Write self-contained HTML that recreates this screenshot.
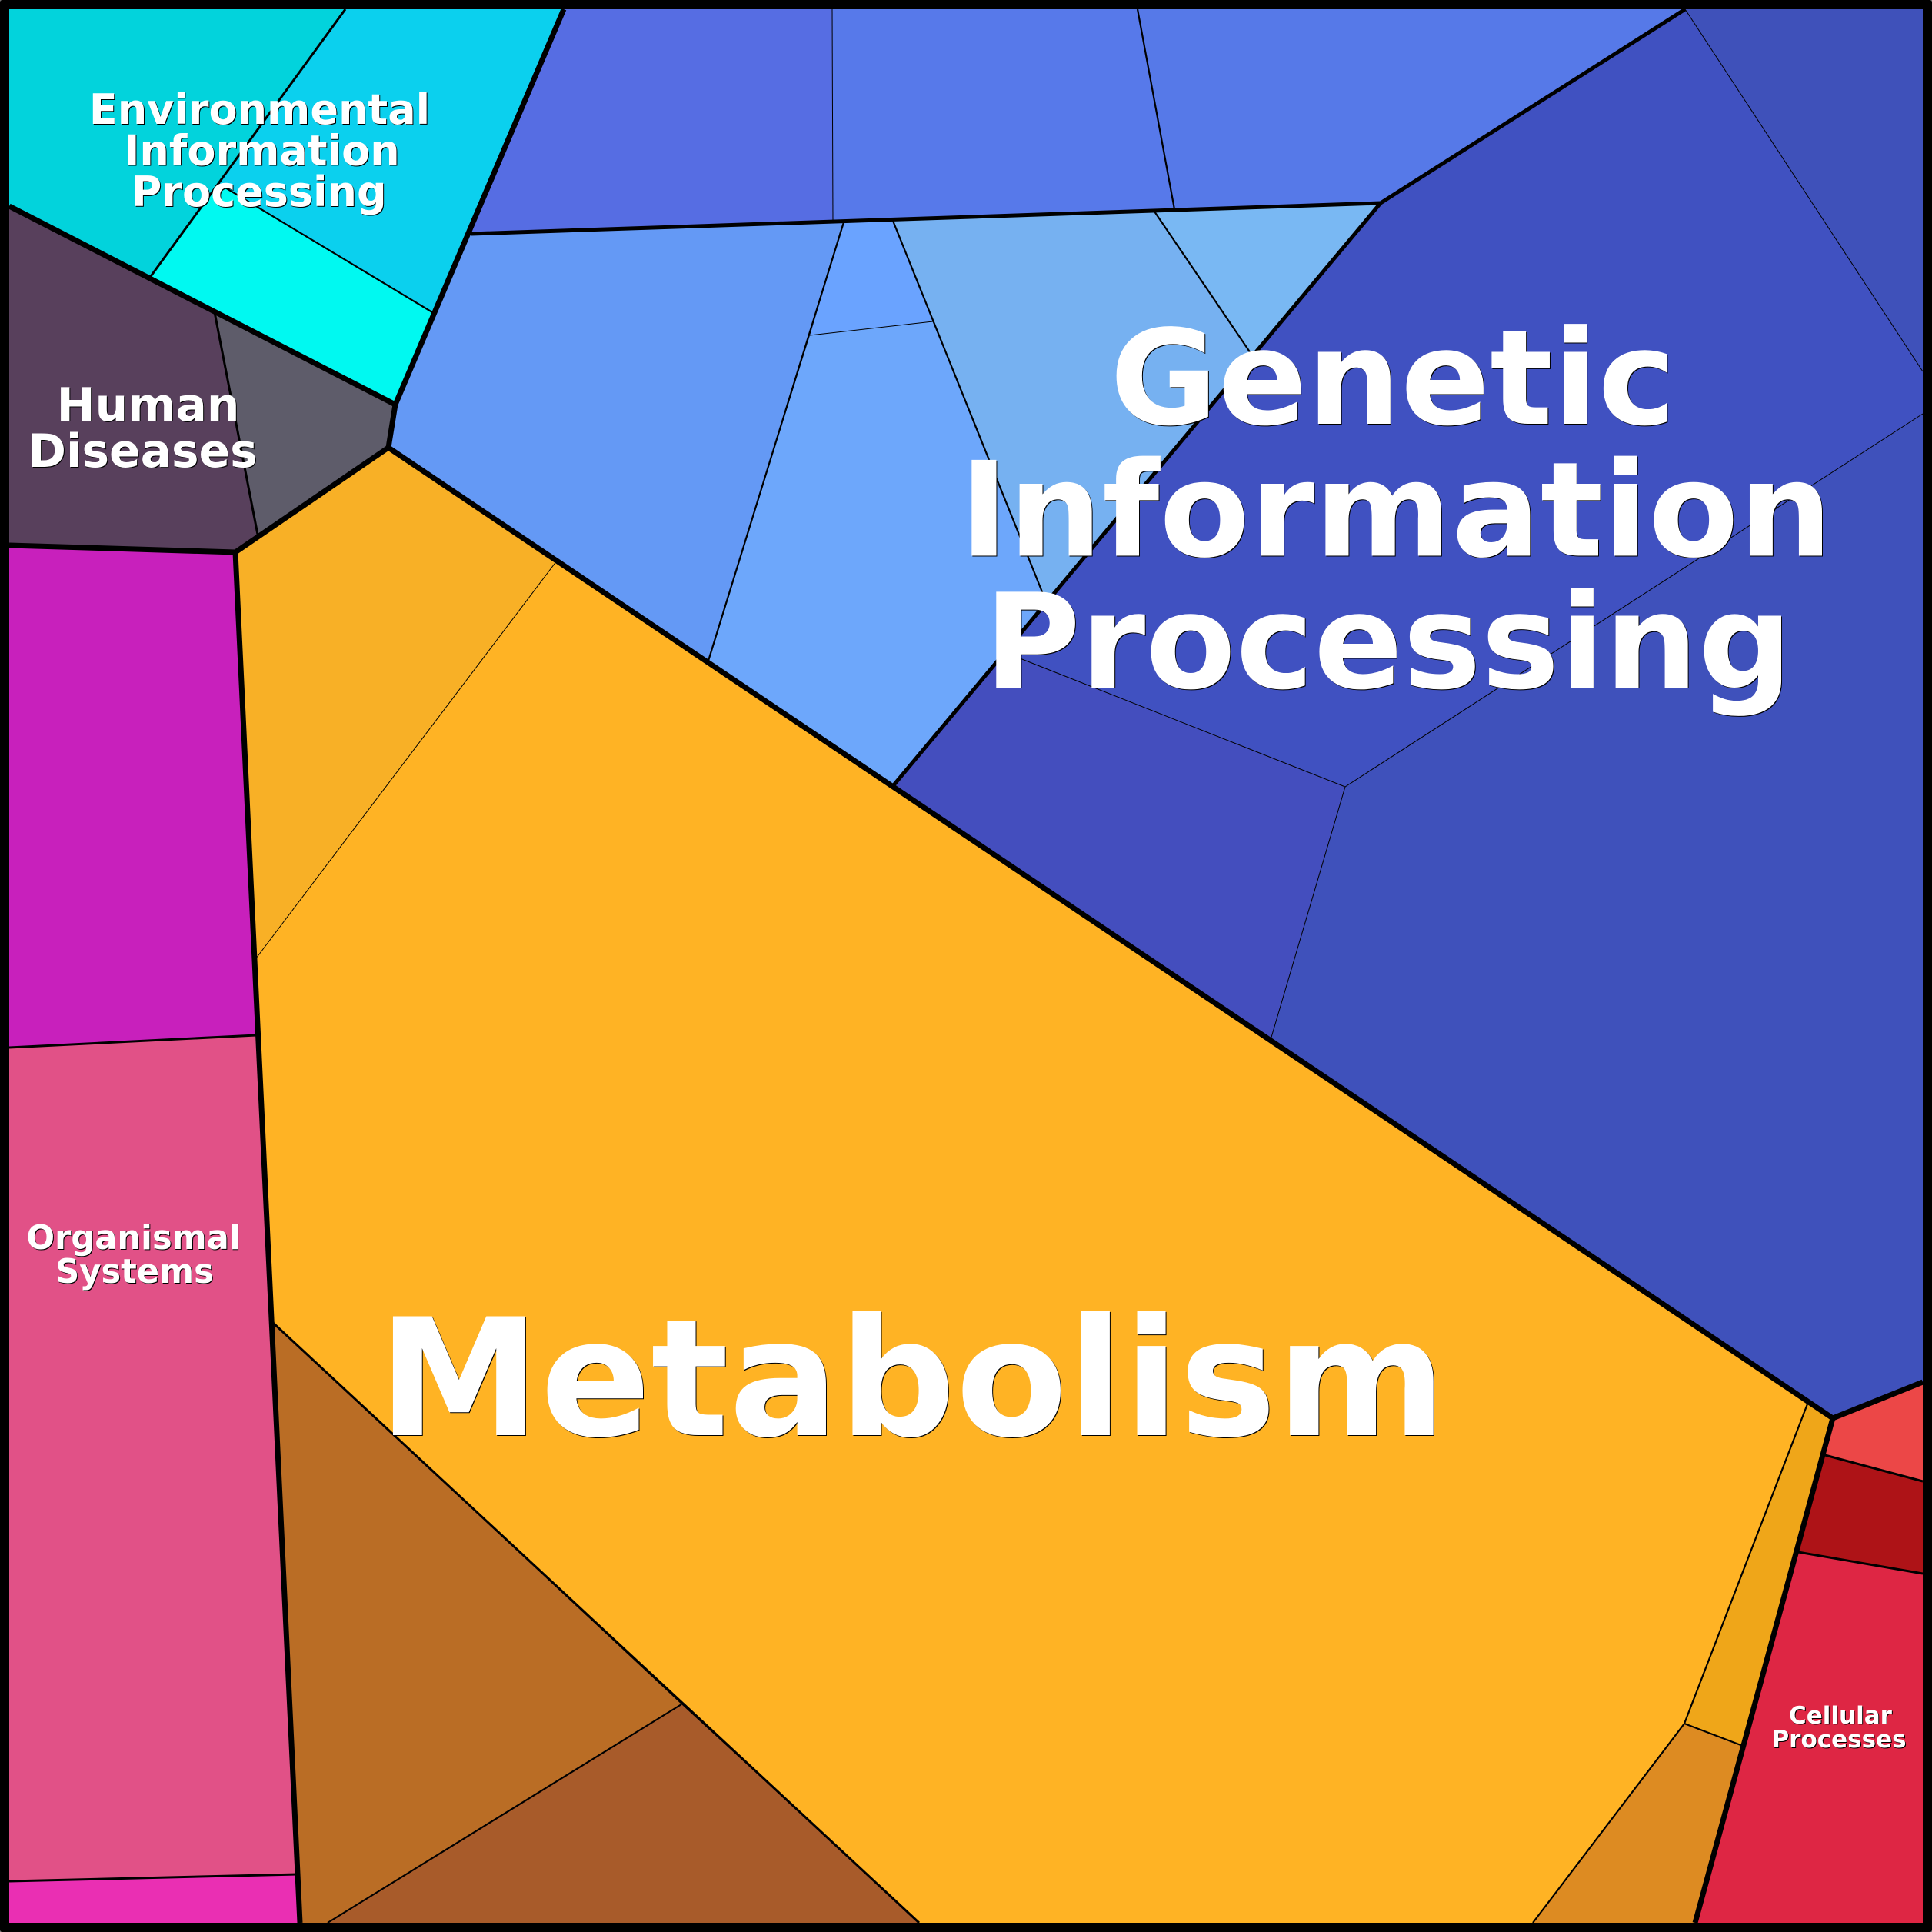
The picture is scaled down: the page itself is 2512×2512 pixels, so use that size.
<!DOCTYPE html>
<html>
<head>
<meta charset="utf-8">
<style>
html,body{margin:0;padding:0;width:2512px;height:2512px;background:#777;overflow:hidden}
svg{display:block;position:absolute;left:0;top:0}
text{font-family:"DejaVu Sans","Liberation Sans",sans-serif;font-weight:700;fill:#fff;text-anchor:middle}
.t{filter:drop-shadow(1.2px 1.2px 0 #000)}
</style>
</head>
<body>
<svg width="2512" height="2512" viewBox="0 0 2512 2512" xmlns="http://www.w3.org/2000/svg">
<rect x="0" y="0" width="2512" height="2512" rx="3" fill="#000"/>
<g>
<polygon fill="#02D3DC" points="12,12 449,12 194,362 12,268"/>
<polygon fill="#0BD0EE" points="449,12 733,12 562,406 283,238"/>
<polygon fill="#00F9F1" points="283,238 562,406 514,526 194,362"/>
<polygon fill="#58405C" points="12,268 279,406 335,695 306,718 12,709"/>
<polygon fill="#5E5C6A" points="279,406 514,526 505,582 335,695"/>
<polygon fill="#C820BC" points="12,709 306,718 333,1346 12,1362"/>
<polygon fill="#E15187" points="12,1362 333,1346 386,2437 12,2446"/>
<polygon fill="#EA2FB3" points="12,2446 386,2437 390,2500 12,2500"/>
<polygon fill="#566DE3" points="733,12 1082,12 1083,288 612,304"/>
<polygon fill="#5779EA" points="1082,12 1479,12 1527,272 1083,288"/>
<polygon fill="#5679E8" points="1479,12 2191,12 1795,264 1527,272"/>
<polygon fill="#6499F5" points="612,304 1097,289 921,859 505,582 514,526"/>
<polygon fill="#6AA3FF" points="1097,289 1161,287 1213,418 1053,436"/>
<polygon fill="#6DA7FB" points="1053,436 1213,418 1360,782 1161,1022 921,859"/>
<polygon fill="#76B1F1" points="1161,287 1501,275 1628,462 1360,782"/>
<polygon fill="#79B8F3" points="1501,275 1795,264 1628,462"/>
<polygon fill="#4051C1" points="1795,264 2191,12 2500,483 2500,538 1749,1023 1306,848"/>
<polygon fill="#3F51BA" points="2191,12 2500,12 2500,483"/>
<polygon fill="#444EBE" points="1306,848 1749,1023 1652,1352 1161,1022"/>
<polygon fill="#3F51BB" points="2500,538 1749,1023 1652,1352 2383,1844 2500,1797"/>
<polygon fill="#F8B026" points="505,582 724,729 333,1246 306,718"/>
<polygon fill="#FFB324" points="724,729 2351,1823 2190,2241 1993,2500 1195,2500 354,1719 333,1246"/>
<polygon fill="#EFA619" points="2351,1823 2383,1844 2266,2270 2190,2241"/>
<polygon fill="#DD8B22" points="2190,2241 2266,2270 2204,2500 1993,2500"/>
<polygon fill="#BA6D25" points="354,1719 886,2216 426,2500 390,2500"/>
<polygon fill="#A85B2A" points="886,2216 1195,2500 426,2500"/>
<polygon fill="#EC4747" points="2383,1844 2500,1797 2500,1926 2373,1892"/>
<polygon fill="#AE1317" points="2373,1892 2500,1926 2500,2046 2338,2018"/>
<polygon fill="#DE2644" points="2338,2018 2500,2046 2500,2500 2204,2500"/>
</g>
<g fill="none" stroke="#000" stroke-linecap="butt">
<g stroke-width="1">
<line x1="724" y1="729" x2="333" y2="1246"/>
<line x1="2191" y1="12" x2="2500" y2="483"/>
<line x1="2500" y1="538" x2="1749" y2="1023"/>
<line x1="1306" y1="848" x2="1749" y2="1023"/>
<line x1="1749" y1="1023" x2="1652" y2="1352"/>
<line x1="1082" y1="12" x2="1083" y2="288"/>
<line x1="1053" y1="436" x2="1213" y2="418"/>
</g>
<g stroke-width="2.2">
<line x1="1479" y1="12" x2="1527" y2="272"/>
<line x1="1097" y1="289" x2="921" y2="859"/>
<line x1="1161" y1="287" x2="1360" y2="782"/>
<line x1="1501" y1="275" x2="1628" y2="462"/>
<line x1="283" y1="238" x2="562" y2="406"/>
<line x1="886" y1="2216" x2="426" y2="2500"/>
<line x1="2351" y1="1823" x2="2190" y2="2241"/>
<line x1="2190" y1="2241" x2="2266" y2="2270"/>
<line x1="2190" y1="2241" x2="1993" y2="2500"/>
</g>
<g stroke-width="3">
<line x1="449" y1="12" x2="194" y2="362"/>
<line x1="279" y1="406" x2="335" y2="695"/>
<line x1="12" y1="1362" x2="333" y2="1346"/>
<line x1="12" y1="2446" x2="386" y2="2437"/>
<line x1="2373" y1="1892" x2="2500" y2="1926"/>
<line x1="2338" y1="2018" x2="2500" y2="2046"/>
<line x1="354" y1="1719" x2="1195" y2="2500"/>
</g>
<g stroke-width="5">
<line x1="612" y1="304" x2="1795" y2="264"/>
<polyline points="2191,12 1795,264 1161,1022"/>
</g>
<g stroke-width="7" stroke-linejoin="miter">
<polyline points="733,12 514,526 12,268"/>
<polyline points="514,526 505,582 306,718"/>
<line x1="12" y1="709" x2="306" y2="718"/>
<line x1="306" y1="718" x2="390" y2="2500"/>
<line x1="505" y1="582" x2="2383" y2="1844"/>
<polyline points="2500,1797 2383,1844 2204,2500"/>
</g>
</g>
<g class="t">
<text font-size="54"><tspan x="337.5" y="161">Environmental</tspan><tspan x="340.5" y="214.5">Information</tspan><tspan x="336.7" y="268">Processing</tspan></text>
</g>
<g class="t">
<text font-size="59.8"><tspan x="192.5" y="547">Human</tspan><tspan x="185.5" y="607">Diseases</tspan></text>
</g>
<g class="t">
<text font-size="171"><tspan x="1811" y="551">Genetic</tspan><tspan x="1815" y="722.5">Information</tspan><tspan x="1805" y="894">Processing</tspan></text>
</g>
<g class="t">
<text font-size="212" x="1186" y="1866">Metabolism</text>
</g>
<g class="t">
<text font-size="43.2"><tspan x="173.5" y="1624">Organismal</tspan><tspan x="175" y="1668">Systems</tspan></text>
</g>
<g class="t">
<text font-size="31"><tspan x="2393" y="2241">Cellular</tspan><tspan x="2391" y="2272">Processes</tspan></text>
</g>
</svg>
</body>
</html>
